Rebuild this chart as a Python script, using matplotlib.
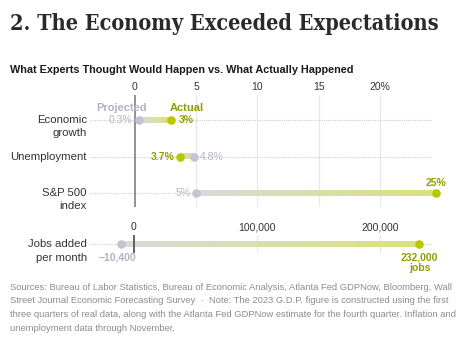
import matplotlib
matplotlib.use("Agg")
import matplotlib.pyplot as plt
import numpy as np
from matplotlib.colors import LinearSegmentedColormap

# ---------------- data ----------------
rows = ["Economic\ngrowth", "Unemployment", "S&P 500\nindex"]
projected = [0.3, 4.8, 5.0]
actual = [2.9, 3.7, 24.6]
projected_labels = ["0.3%", "4.8%", "5%"]
actual_labels = ["3%", "3.7%", "25%"]
pct_ticks = [0, 5, 10, 15, 20]
pct_tick_labels = ["0", "5", "10", "15", "20%"]

jobs_row = "Jobs added\nper month"
jobs_projected = -10400
jobs_actual = 232000
jobs_projected_label = "\u221210,400"
jobs_actual_label = "232,000\njobs"
jobs_ticks = [0, 100000, 200000]
jobs_tick_labels = ["0", "100,000", "200,000"]

title = "2. The Economy Exceeded Expectations"
subtitle = "What Experts Thought Would Happen vs. What Actually Happened"
footnote = [
    "Sources: Bureau of Labor Statistics, Bureau of Economic Analysis, Atlanta Fed GDPNow, Bloomberg, Wall",
    "Street Journal Economic Forecasting Survey  \u00b7  Note: The 2023 G.D.P. figure is constructed using the first",
    "three quarters of real data, along with the Atlanta Fed GDPNow estimate for the fourth quarter. Inflation and",
    "unemployment data through November.",
]

# ---------------- style ----------------
W, H = 460, 341
GREY_DOT = "#c4c3d3"
GREEN_DOT = "#bac700"
GREY_TXT = "#b3b2c4"
GREEN_TXT = "#8f9e00"
DARK = "#333333"
SANS = ["Liberation Sans", "DejaVu Sans"]
bar_cmap = LinearSegmentedColormap.from_list("bar", ["#dadada", "#d9e27a"])

fig = plt.figure(figsize=(W / 100, H / 100), dpi=100)
fig.patch.set_facecolor("white")


def px_axes(x0, y0, x1, y1):
    return fig.add_axes([x0 / W, 1 - y1 / H, (x1 - x0) / W, (y1 - y0) / H])


def setup(ax):
    for s in ax.spines.values():
        s.set_visible(False)
    ax.set_yticks([])
    ax.xaxis.tick_top()
    ax.tick_params(axis="x", length=0, pad=2, labelsize=7.5, labelcolor=DARK)
    for lab in ax.get_xticklabels():
        lab.set_fontfamily(SANS)


grad = np.linspace(0, 1, 256).reshape(1, -1)

# ---------- percentage panel ----------
ax1 = px_axes(90, 95, 445, 207)
x0px, ppu = 135, 12.25
xl = ((90 - x0px) / ppu, (445 - x0px) / ppu)
xdot_end = (432 - x0px) / ppu
rpos = np.arange(len(rows))
for x in pct_ticks[1:]:
    ax1.axvline(x, color="#e8e8e8", lw=0.9, zorder=0)
ax1.axvline(0, color="#8a8a8a", lw=1.3, zorder=1)
ax1.hlines(rpos, xl[0], xdot_end, colors="#cfcfcf", linestyles=(0, (1, 1)), lw=0.8, zorder=0)
for r, p, a in zip(rpos, projected, actual):
    ax1.imshow(grad, cmap=bar_cmap, extent=(p, a, r + 0.075, r - 0.075), aspect="auto", zorder=2,
               interpolation="bilinear")
ax1.scatter(projected, rpos, s=38, color=GREY_DOT, zorder=4, linewidths=0, clip_on=False)
ax1.scatter(actual, rpos, s=38, color=GREEN_DOT, zorder=5, linewidths=0, clip_on=False)
ax1.set_xlim(*xl)
ax1.set_ylim((207 - 120) / 36.5, (95 - 120) / 36.5)
ax1.set_xticks(pct_ticks)
ax1.set_xticklabels(pct_tick_labels)
setup(ax1)

# value labels
offs_p = [(-6, 0, "right"), (6, 0, "left"), (-6, 0, "right")]
offs_a = [(8, 0, "left"), (-6, 0, "right"), (0, 10, "center")]
for r in rpos:
    dx, dy, ha = offs_p[r]
    ax1.annotate(projected_labels[r], (projected[r], r), xytext=(dx, dy), textcoords="offset pixels",
                 ha=ha, va="center", fontsize=7.5, color=GREY_TXT, family=SANS, zorder=6)
    dx, dy, ha = offs_a[r]
    ax1.annotate(actual_labels[r], (actual[r], r), xytext=(dx, dy), textcoords="offset pixels",
                 ha=ha, va="center", fontsize=7.5, color=GREEN_TXT, weight="bold", family=SANS,
                 zorder=6, annotation_clip=False)

# headers
ax1.annotate("Projected", (projected[0], 0), xytext=(-17, 12), textcoords="offset pixels",
             ha="center", va="center", fontsize=8.0, color=GREY_TXT, weight="bold", family=SANS)
ax1.annotate("Actual", (actual[0], 0), xytext=(-1, 12), textcoords="offset pixels",
             ha="left", va="center", fontsize=8.0, color=GREEN_TXT, weight="bold", family=SANS)

# row labels
for r, lab in zip(rpos, rows):
    for i, line in enumerate(lab.split("\n")):
        ax1.annotate(line, (0, r), xycoords=("axes fraction", "data"), xytext=(-3, -13 * i),
                     textcoords="offset pixels", ha="right", va="center", fontsize=8.2,
                     color=DARK, family=SANS)

# ---------- jobs panel ----------
ax2 = px_axes(90, 235, 445, 253)
j0px, jppu = 134, 1.23e-3
jxl = ((90 - j0px) / jppu, (445 - j0px) / jppu)
jdot_end = (432 - j0px) / jppu
for x in jobs_ticks[1:]:
    ax2.axvline(x, color="#e8e8e8", lw=0.9, zorder=0)
ax2.axvline(0, color="#555555", lw=1.3, zorder=3)
ax2.hlines([0], jxl[0], jdot_end, colors="#cfcfcf", linestyles=(0, (1, 1)), lw=0.8, zorder=0)
ax2.imshow(grad, cmap=bar_cmap, extent=(jobs_projected, jobs_actual, 0.28, -0.28), aspect="auto",
           zorder=2, interpolation="bilinear")
ax2.scatter([jobs_projected], [0], s=38, color=GREY_DOT, zorder=4, linewidths=0, clip_on=False)
ax2.scatter([jobs_actual], [0], s=38, color=GREEN_DOT, zorder=5, linewidths=0, clip_on=False)
ax2.set_xlim(*jxl)
ax2.set_ylim(1, -1)
ax2.set_xticks(jobs_ticks)
ax2.set_xticklabels(jobs_tick_labels)
setup(ax2)
ax2.annotate(jobs_projected_label, (jobs_projected, 0), xytext=(-4, -13), textcoords="offset pixels",
             ha="center", va="center", fontsize=7.5, color=GREY_TXT, weight="bold", family=SANS,
             annotation_clip=False)
for i, line in enumerate(jobs_actual_label.split("\n")):
    ax2.annotate(line, (jobs_actual, 0), xytext=(0, -13 - 11 * i), textcoords="offset pixels",
                 ha="center", va="center", fontsize=7.5, color=GREEN_TXT, weight="bold", family=SANS,
                 annotation_clip=False)
for i, line in enumerate(jobs_row.split("\n")):
    ax2.annotate(line, (0, 0), xycoords=("axes fraction", "data"), xytext=(-3, -14 * i),
                 textcoords="offset pixels", ha="right", va="center", fontsize=8.2, color=DARK,
                 family=SANS, annotation_clip=False)

# ---------- titles & footnote ----------
renderer = fig.canvas.get_renderer()


def fit(t, width):
    w = t.get_window_extent(renderer).width
    t.set_fontsize(t.get_fontsize() * width / w)


t_title = fig.text(10 / W, 1 - 24 / H, title, ha="left", va="center", fontsize=16,
                   family=["DejaVu Serif"], fontstretch="condensed", weight="bold", color="#2a2a2a")
fit(t_title, 433)
t_sub = fig.text(10 / W, 1 - 70 / H, subtitle, ha="left", va="center", fontsize=8,
                 family=SANS, weight="bold", color="#1a1a1a")
fit(t_sub, 345)
t_f = fig.text(10 / W, 1 - 287 / H, footnote[0], ha="left", va="center", fontsize=7,
               family=SANS, color="#8c8c8c")
fit(t_f, 442)
fs = t_f.get_fontsize()
for i, line in enumerate(footnote[1:], start=1):
    fig.text(10 / W, 1 - (287 + 13.9 * i) / H, line, ha="left", va="center", fontsize=fs,
             family=SANS, color="#8c8c8c")

fig.savefig("out.png", dpi=100)
